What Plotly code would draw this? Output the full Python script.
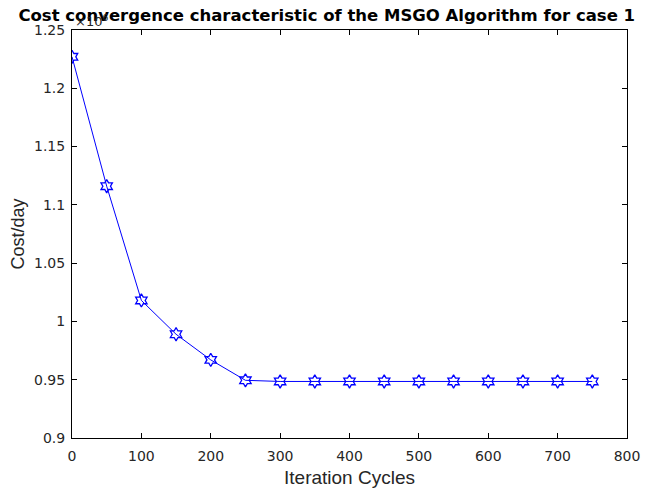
import plotly.graph_objects as go

iterations = [0, 50, 100, 150, 200, 250, 300, 350, 400, 450, 500, 550, 600, 650, 700, 750]
cost_e6 = [1.227, 1.116, 1.018, 0.989, 0.967, 0.9495, 0.9485, 0.9485, 0.9485, 0.9485,
           0.9485, 0.9485, 0.9485, 0.9485, 0.9485, 0.9485]
y_ticks = [0.9, 0.95, 1, 1.05, 1.1, 1.15, 1.2, 1.25]
y_tick_text = ["0.9", "0.95", "1", "1.05", "1.1", "1.15", "1.2", "1.25"]
x_ticks = [0, 100, 200, 300, 400, 500, 600, 700, 800]

font = "Liberation Sans, Arial, sans-serif"
wide = "DejaVu Sans, sans-serif"

fig = go.Figure()
fig.add_trace(go.Scatter(
    x=iterations, y=cost_e6, mode="lines+markers",
    line=dict(color="#0000ff", width=1),
    marker=dict(symbol="hexagram-open", size=10, color="#0000ff", line=dict(width=1.3, color="#0000ff")),
    showlegend=False,
))

axis_common = dict(
    showgrid=False, zeroline=False, showline=True, linecolor="black", linewidth=1,
    mirror="ticks", ticks="inside", ticklen=5, tickcolor="black", automargin=False,
    tickfont=dict(family=wide, size=14, color="#262626"),
)
fig.update_xaxes(range=[0, 800], tickvals=x_ticks, ticklabelstandoff=5,
                 title=dict(text="Iteration Cycles", font=dict(family=font, size=19, color="#262626"), standoff=7),
                 **axis_common)
fig.update_yaxes(range=[0.9, 1.25], tickvals=y_ticks, ticktext=y_tick_text, ticklabelstandoff=3,
                 title=dict(text="Cost/day", font=dict(family=font, size=18, color="#262626"), standoff=7),
                 **axis_common)

fig.update_layout(
    width=644, height=481,
    margin=dict(l=64, r=25, t=22, b=51),
    paper_bgcolor="white", plot_bgcolor="white",
    title=dict(text="<b>Cost convergence characteristic of the MSGO Algorithm for case 1</b>",
               x=0.459, xref="paper", xanchor="center", y=0.985, yanchor="middle",
               font=dict(family=wide, size=16.5, color="black"), automargin=False),
)
fig.add_annotation(xref="paper", yref="paper", x=0.0, y=1.0, xanchor="left", yanchor="bottom",
                   text="×10<sup>6</sup>", showarrow=False, yshift=-1, xshift=1,
                   font=dict(family=wide, size=13, color="#262626"))

fig.write_html("out.html")
